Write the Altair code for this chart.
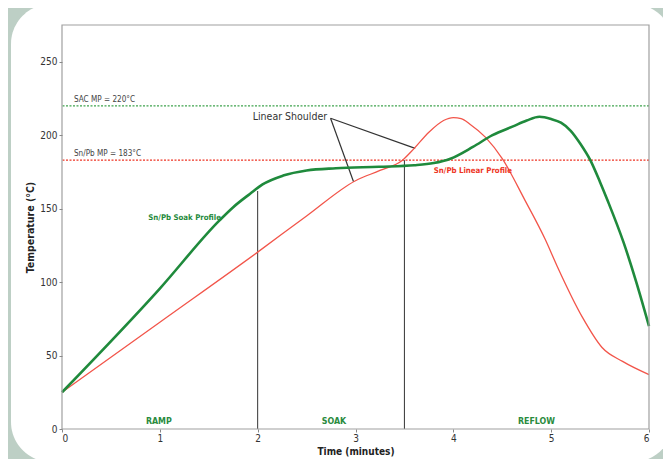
import altair as alt
import pandas as pd

# ---- data ----
green_x = [0, 1.0, 1.61, 1.75, 1.92, 2.05, 2.26, 2.5, 2.8, 3.24, 3.6, 3.8, 3.97, 4.2, 4.4, 4.61, 4.75, 4.88, 5.0, 5.1, 5.2, 5.3, 5.40, 5.50, 5.58, 5.74, 5.87, 6.0]
green_y = [25, 95.6, 142, 151, 160, 166.5, 172.5, 176, 177.5, 178.5, 179.5, 181, 184, 192, 200, 206, 210, 212.5, 211, 208.5, 203, 194, 183, 168, 155, 127, 100, 70]

red_x = [0, 1.0, 2.0, 2.5, 3.0, 3.25, 3.48, 3.6, 3.75, 3.9, 4.0, 4.08, 4.17, 4.33, 4.50, 4.73, 4.94, 5.06, 5.32, 5.52, 5.73, 6.0]
red_y = [25, 72.7, 120.4, 145, 169, 176, 183, 191, 202, 210, 212, 211.3, 207.5, 198.5, 184, 156, 129, 111, 76, 55.5, 46, 37]

mp_values = [220, 183]
mp_labels = ["SAC MP = 220°C", "Sn/Pb MP = 183°C"]
mp_colors = ["#3fa34d", "#ee3524"]

phase_x = [2.0, 3.5]
phase_bottom = [0, 0]
phase_top = [162, 183]

phase_names = ["RAMP", "SOAK", "REFLOW"]
phase_label_x = [0.99, 2.78, 4.85]
phase_label_y = [5.2, 5.2, 5.2]

shoulder_from = (2.745, 211.5)
shoulder_to_x = [2.98, 3.61]
shoulder_to_y = [168.3, 191]

FONT = "DejaVu Sans Condensed, Roboto, sans-serif"
GREEN = "#1f8a3c"
RED = "#f2554a"

W, H = 587, 404
xs = alt.Scale(domain=[0, 6], nice=False, zero=False)
ys = alt.Scale(domain=[0, 275], nice=False)

green_df = pd.DataFrame({"t": green_x, "temp": green_y})
red_df = pd.DataFrame({"t": red_x, "temp": red_y})
mp_df = pd.DataFrame({"v": mp_values, "label": mp_labels, "c": mp_colors})
phase_df = pd.DataFrame({"x": phase_x, "b": phase_bottom, "top": phase_top})
pl_df = pd.DataFrame({"name": phase_names, "x": phase_label_x, "y": phase_label_y})
sh_df = pd.DataFrame({"x": [shoulder_from[0]] * 2, "y": [shoulder_from[1]] * 2,
                      "x2": shoulder_to_x, "y2": shoulder_to_y})

panel = alt.Chart(pd.DataFrame({"a": [0]})).mark_rect(
    color="white", cornerRadius=40
).encode(x=alt.value(-51), x2=alt.value(611), y=alt.value(-21), y2=alt.value(437))

base_x = alt.X("t:Q", scale=xs, title="Time (minutes)",
               axis=alt.Axis(values=[0, 1, 2, 3, 4, 5, 6], format="d", zindex=1))
base_y = alt.Y("temp:Q", scale=ys, title="Temperature (°C)",
               axis=alt.Axis(values=[0, 50, 100, 150, 200, 250], zindex=1))

green_line = alt.Chart(green_df).mark_line(
    color=GREEN, strokeWidth=2.6, interpolate="monotone"
).encode(x=base_x, y=base_y)

red_line = alt.Chart(red_df).mark_line(
    color=RED, strokeWidth=1.3, interpolate="monotone"
).encode(x=alt.X("t:Q", scale=xs), y=alt.Y("temp:Q", scale=ys))

mp_rules = alt.Chart(mp_df).mark_rule(strokeDash=[2, 1.5], strokeWidth=1.2).encode(
    y=alt.Y("v:Q", scale=ys),
    color=alt.Color("c:N", scale=None),
)

mp_text = alt.Chart(mp_df).mark_text(
    align="left", baseline="bottom", dy=-2, font=FONT, fontSize=8.1, color="#444"
).encode(x=alt.value(12), y=alt.Y("v:Q", scale=ys), text="label:N")

phase_rules = alt.Chart(phase_df).mark_rule(color="#333", strokeWidth=1).encode(
    x=alt.X("x:Q", scale=xs), y=alt.Y("b:Q", scale=ys), y2="top:Q"
)

shoulder_rules = alt.Chart(sh_df).mark_rule(color="#333", strokeWidth=1.2).encode(
    x=alt.X("x:Q", scale=xs), y=alt.Y("y:Q", scale=ys), x2="x2:Q", y2="y2:Q"
)

shoulder_text = alt.Chart(pd.DataFrame({"x": [2.71], "y": [212.5], "s": ["Linear Shoulder"]})).mark_text(
    align="right", baseline="middle", font=FONT, fontSize=10.5, color="#333"
).encode(x=alt.X("x:Q", scale=xs), y=alt.Y("y:Q", scale=ys), text="s:N")

soak_text = alt.Chart(pd.DataFrame({"x": [1.625], "y": [143.4], "s": ["Sn/Pb Soak Profile"]})).mark_text(
    align="right", baseline="middle", font=FONT, fontSize=7.8, fontWeight="bold", color=GREEN
).encode(x=alt.X("x:Q", scale=xs), y=alt.Y("y:Q", scale=ys), text="s:N")

lin_text = alt.Chart(pd.DataFrame({"x": [3.80], "y": [175.8], "s": ["Sn/Pb Linear Profile"]})).mark_text(
    align="left", baseline="middle", font=FONT, fontSize=7.8, fontWeight="bold", color="#ee3524"
).encode(x=alt.X("x:Q", scale=xs), y=alt.Y("y:Q", scale=ys), text="s:N")

phase_text = alt.Chart(pl_df).mark_text(
    align="center", baseline="middle", font=FONT, fontSize=8.8, fontWeight="bold", color="#2a8b3e"
).encode(x=alt.X("x:Q", scale=xs), y=alt.Y("y:Q", scale=ys), text="name:N")

frame = alt.Chart(pd.DataFrame({"a": [0]})).mark_rect(
    fill="transparent", stroke="#a0a0a0", strokeWidth=1.2
).encode(x=alt.value(0), x2=alt.value(W), y=alt.value(0), y2=alt.value(H))

chart = alt.layer(
    panel, mp_rules, phase_rules, shoulder_rules, red_line, green_line,
    mp_text, shoulder_text, soak_text, lin_text, phase_text, frame
).properties(
    width=W, height=H,
    autosize=alt.AutoSizeParams(type="none"),
    padding={"left": 54, "top": 17, "right": 14, "bottom": 30},
    background="#bdcfc5",
).configure_view(
    stroke=None, fill="white"
).configure_axis(
    grid=False,
    domain=False,
    tickColor="#888",
    tickSize=3,
    labelFont=FONT,
    labelFontSize=10,
    labelColor="#333",
    titleFont=FONT,
    titleFontWeight="bold",
    titleColor="#222",
).configure_axisX(
    labelPadding=1, titleFontSize=10, titleY=25, titleBaseline="alphabetic"
).configure_axisY(
    labelPadding=2, titlePadding=4, titleFontSize=10.5
)

chart.save("out.html", embed_options={"renderer": "svg", "actions": False})
